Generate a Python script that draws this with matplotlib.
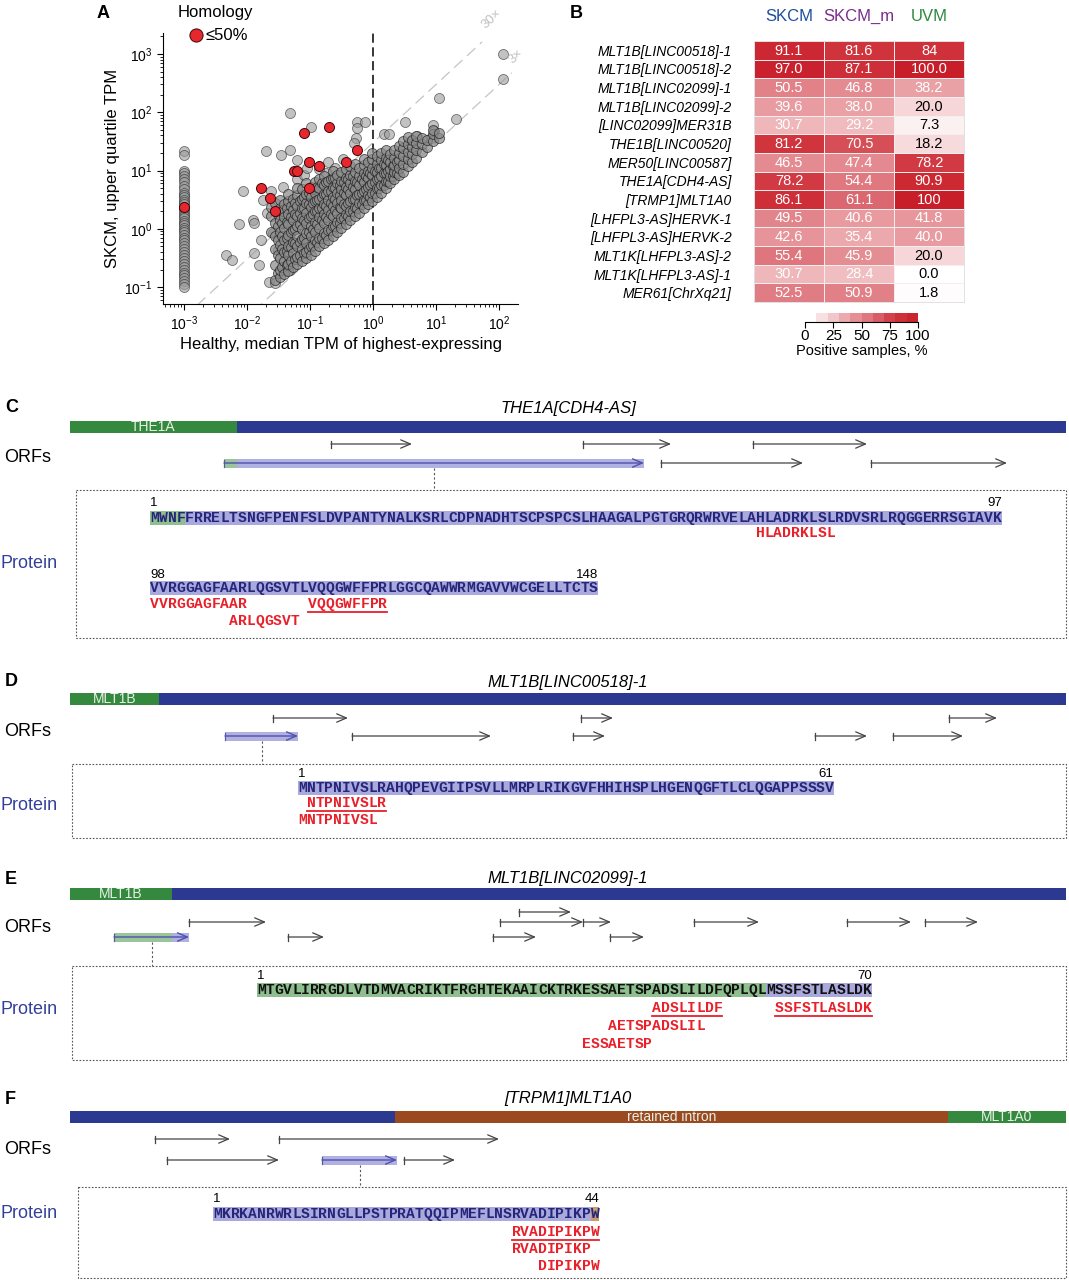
import numpy as np
import matplotlib
matplotlib.use("Agg")
import matplotlib.pyplot as plt
from matplotlib import font_manager
from matplotlib.colors import LinearSegmentedColormap
from matplotlib.patches import Rectangle
from matplotlib.ticker import LogLocator, NullFormatter

plt.rcParams['font.family'] = ['Liberation Sans', 'DejaVu Sans']
plt.rcParams['mathtext.fontset'] = 'custom'
plt.rcParams['mathtext.rm'] = 'Liberation Sans'
plt.rcParams['mathtext.it'] = 'Liberation Sans:italic'

_names = {f.name for f in font_manager.fontManager.ttflist}
NARROW = 'Liberation Sans Narrow' if 'Liberation Sans Narrow' in _names else 'Liberation Sans'
MONO = 'Liberation Mono'

W, H = 1069, 1280

# ---------------- panel A data (log10 values)
# healthy TPM = 1e-3 column (not expressed in healthy tissue)
col_logy = [1.34, 1.27, 1.0, 0.95, 0.9, 0.86, 0.8, 0.74, 0.68, 0.62, 0.58, 0.54,
            0.5, 0.46, 0.42, 0.38, 0.34, 0.3, 0.26, 0.22, 0.18, 0.14, 0.1, 0.06,
            0.02, -0.02, -0.06, -0.1, -0.15, -0.2, -0.25, -0.3, -0.35, -0.4, -0.45,
            -0.5, -0.55, -0.6, -0.65, -0.7, -0.75, -0.8, -0.85, -0.9, -0.95, -1.0]

# main cloud, one entry per x-column: (log10 healthy, [log10 SKCM ...])
cloud_cols = [
    (-1.62, [-0.05, 0.22, 0.38]),
    (-1.55, [-0.88, -0.62, -0.35, -0.12, 0.1, 0.3, 0.45]),
    (-1.51, [-0.75, -0.45, -0.2, 0.05, 0.25]),
    (-1.48, [-0.82, -0.7, -0.5, -0.28, -0.05, 0.15, 0.35, 0.5]),
    (-1.44, [-0.65, -0.35, -0.12, 0.1, 0.3]),
    (-1.41, [-0.78, -0.55, -0.4, -0.2, 0.02, 0.2, 0.42]),
    (-1.37, [-0.62, -0.38, -0.15, 0.12, 0.35]),
    (-1.34, [-0.72, -0.6, -0.45, -0.3, -0.1, 0.08, 0.25, 0.48, 0.6]),
    (-1.30, [-0.55, -0.32, -0.05, 0.2, 0.4]),
    (-1.27, [-0.65, -0.42, -0.22, -0.02, 0.15, 0.32, 0.52]),
    (-1.23, [-0.52, -0.25, 0.0, 0.25, 0.45]),
    (-1.20, [-0.6, -0.48, -0.3, -0.12, 0.05, 0.22, 0.4, 0.58, 0.7]),
    (-1.16, [-0.45, -0.22, 0.08, 0.28, 0.48]),
    (-1.13, [-0.55, -0.35, -0.18, 0.0, 0.18, 0.35, 0.52, 0.68]),
    (-1.09, [-0.42, -0.15, 0.15, 0.35, 0.55]),
    (-1.06, [-0.5, -0.4, -0.25, -0.08, 0.1, 0.28, 0.45, 0.6, 0.78]),
    (-1.02, [-0.35, -0.05, 0.18, 0.42, 0.62]),
    (-0.99, [-0.45, -0.3, -0.12, 0.05, 0.22, 0.38, 0.55, 0.72]),
    (-0.95, [-0.28, 0.0, 0.25, 0.45, 0.68]),
    (-0.92, [-0.38, -0.2, -0.05, 0.12, 0.3, 0.48, 0.62, 0.8]),
    (-0.88, [-0.22, 0.08, 0.3, 0.5, 0.72]),
    (-0.85, [-0.3, -0.15, 0.02, 0.2, 0.35, 0.52, 0.7, 0.85]),
    (-0.81, [-0.15, 0.15, 0.35, 0.55, 0.78]),
    (-0.78, [-0.25, -0.08, 0.1, 0.25, 0.42, 0.6, 0.75, 0.9]),
    (-0.74, [-0.1, 0.2, 0.4, 0.6, 0.8]),
    (-0.71, [-0.2, -0.02, 0.15, 0.32, 0.5, 0.65, 0.82]),
    (-0.67, [-0.02, 0.25, 0.45, 0.65, 0.85]),
    (-0.64, [-0.12, 0.05, 0.22, 0.4, 0.55, 0.72, 0.88, 1.0]),
    (-0.60, [0.05, 0.32, 0.52, 0.7, 0.88]),
    (-0.57, [-0.05, 0.12, 0.28, 0.45, 0.62, 0.78, 0.92]),
    (-0.53, [0.1, 0.38, 0.58, 0.75]),
    (-0.50, [0.02, 0.18, 0.35, 0.5, 0.68, 0.82, 0.98]),
    (-0.46, [0.18, 0.42, 0.62, 0.8]),
    (-0.43, [0.08, 0.25, 0.4, 0.58, 0.72, 0.88, 1.02]),
    (-0.39, [0.22, 0.45, 0.68, 0.85]),
    (-0.36, [0.15, 0.3, 0.48, 0.62, 0.78, 0.92, 1.08]),
    (-0.32, [0.3, 0.52, 0.72, 0.9]),
    (-0.29, [0.22, 0.38, 0.52, 0.68, 0.82, 0.98, 1.12]),
    (-0.25, [0.35, 0.58, 0.8]),
    (-0.22, [0.28, 0.45, 0.6, 0.75, 0.9, 1.05]),
    (-0.18, [0.42, 0.62, 0.85]),
    (-0.15, [0.35, 0.5, 0.65, 0.8, 0.95, 1.1, 1.2]),
    (-0.11, [0.5, 0.68, 0.9]),
    (-0.08, [0.42, 0.58, 0.72, 0.88, 1.0, 1.15]),
    (-0.04, [0.55, 0.75, 0.95]),
    (-0.01, [0.48, 0.62, 0.78, 0.92, 1.05, 1.2, 1.3]),
    (0.03, [0.62, 0.8, 1.0]),
    (0.06, [0.55, 0.7, 0.85, 0.98, 1.12, 1.25]),
    (0.10, [0.7, 0.88, 1.05]),
    (0.13, [0.62, 0.75, 0.9, 1.05, 1.18, 1.3]),
    (0.17, [0.75, 0.95, 1.12]),
    (0.20, [0.7, 0.82, 0.95, 1.1, 1.22, 1.35]),
    (0.24, [0.82, 1.0, 1.18]),
    (0.27, [0.78, 0.9, 1.02, 1.15, 1.28]),
    (0.31, [0.9, 1.08]),
    (0.34, [0.85, 0.98, 1.1, 1.22, 1.35]),
    (0.38, [0.95, 1.15]),
    (0.41, [0.92, 1.05, 1.18, 1.3, 1.42]),
    (0.48, [0.98, 1.12, 1.25, 1.38, 1.5]),
    (0.55, [1.08, 1.2, 1.32, 1.45, 1.58]),
    (0.62, [1.15, 1.28, 1.4, 1.52]),
    (0.69, [1.22, 1.35, 1.48, 1.6]),
    (0.78, [1.32, 1.45, 1.55]),
    (0.86, [1.4, 1.52]),
    (0.95, [1.5, 1.62, 1.7]),
    (1.04, [1.55, 1.65]),
]

# scattered outliers (log10 healthy, log10 SKCM)
out_logx = [2.06, 2.06, 1.05, 1.31, -1.31, -0.99, -0.26, -0.12, -0.25, -0.27, -0.30,
            0.51, 0.17, 0.26, -1.70, -1.46, -1.31, -1.21, -0.72, -0.75, -0.60, -2.06,
            -2.13, -1.91, -1.88, -2.33, -2.24, -1.88, -1.81, -1.65, -1.55, -1.77, -1.74,
            -1.58, -1.50, -1.39, -1.31, -1.62, -1.68, -1.20, -1.10, -1.42, -0.48, 0.95,
            0.70, 0.62, -1.05, -0.85, 0.96, 0.92]
out_logy = [3.0, 2.57, 2.24, 1.89, 1.99, 1.75, 1.84, 1.84, 1.73, 1.55, 1.47,
            1.84, 1.62, 1.62, 1.34, 1.27, 1.36, 1.18, 1.14, 0.95, 1.05, 0.65,
            0.09, 0.15, 0.1, -0.45, -0.53, -0.42, -0.62, -0.92, -0.93, -0.19, 0.5,
            -0.07, -0.36, -0.73, -0.70, 0.65, 0.28, 0.85, 0.92, 0.72, 1.2, 1.78,
            1.6, 1.5, 1.05, 1.02, 1.67, 1.55]

# homology <= 50 %
red_logx = [-3.0, -1.78, -1.63, -1.56, -1.25, -1.21, -1.09, -1.02, -1.01, -0.85, -0.70, -0.42, -0.25]
red_logy = [0.37, 0.70, 0.53, 0.31, 1.0, 1.0, 1.64, 1.15, 0.70, 1.07, 1.75, 1.14, 1.36]

# ---------------- panel B data
hm_rows = ['MLT1B[LINC00518]-1', 'MLT1B[LINC00518]-2', 'MLT1B[LINC02099]-1',
           'MLT1B[LINC02099]-2', '[LINC02099]MER31B', 'THE1B[LINC00520]',
           'MER50[LINC00587]', 'THE1A[CDH4-AS]', '[TRMP1]MLT1A0',
           '[LHFPL3-AS]HERVK-1', '[LHFPL3-AS]HERVK-2', 'MLT1K[LHFPL3-AS]-2',
           'MLT1K[LHFPL3-AS]-1', 'MER61[ChrXq21]']
hm_cols = ['SKCM', 'SKCM_m', 'UVM']
hm_col_colors = ['#1f4e9c', '#7b2d8b', '#2e8b3e']
skcm = [91.1, 97.0, 50.5, 39.6, 30.7, 81.2, 46.5, 78.2, 86.1, 49.5, 42.6, 55.4, 30.7, 52.5]
skcm_m = [81.6, 87.1, 46.8, 38.0, 29.2, 70.5, 47.4, 54.4, 61.1, 40.6, 35.4, 45.9, 28.4, 50.9]
uvm = [84, 100.0, 38.2, 20.0, 7.3, 18.2, 78.2, 90.9, 100, 41.8, 40.0, 20.0, 0.0, 1.8]
uvm_labels = ['84', '100.0', '38.2', '20.0', '7.3', '18.2', '78.2', '90.9', '100',
              '41.8', '40.0', '20.0', '0.0', '1.8']
cbar_ticks = [0, 25, 50, 75, 100]
cbar_levels = [10, 20, 30, 40, 50, 60, 70, 80, 90, 100]

# ---------------- panels C-F data (positions along transcript, 0..996)
BLUE = '#2b3990'
GREEN = '#35893f'
BROWN = '#9b4a1f'
SH_BLUE = '#a9a9de'
SH_GREEN = '#8fbf8f'
SH_BROWN = '#c89a6e'

c_title = 'THE1A[CDH4-AS]'
c_segments = [(0, 167, 'THE1A', GREEN), (167, 996, '', BLUE)]
c_orfs = [(261, 342, 0), (513, 601, 0), (683, 797, 0), (591, 733, 1), (801, 937, 1)]
c_main = [(154, 167, SH_GREEN), (167, 574, SH_BLUE)]
c_main_row = 1
c_seqs = [(1, 'MWNFFRRELTSNGFPENFSLDVPANTYNALKSRLCDPNADHTSCPSPCSLHAAGALPGTGRQRWRVELAHLADRKLSLRDVSRLRQGGERRSGIAVK'),
          (98, 'VVRGGAGFAARLQGSVTLVQQGWFFPRLGGCQAWWRMGAVVWCGELLTCTS')]
c_shades = [(0, 0, 3, SH_GREEN), (0, 4, 96, SH_BLUE), (1, 0, 50, SH_BLUE)]
c_peps = [(0, 0, 'HLADRKLSL', False), (1, 0, 'VVRGGAGFAAR', False),
          (1, 0, 'VQQGWFFPR', True), (1, 1, 'ARLQGSVT', False)]

d_title = 'MLT1B[LINC00518]-1'
d_segments = [(0, 89, 'MLT1B', GREEN), (89, 996, '', BLUE)]
d_orfs = [(203, 278, 0), (511, 543, 0), (879, 927, 0),
          (282, 421, 1), (503, 535, 1), (745, 797, 1), (823, 893, 1)]
d_main = [(155, 228, SH_BLUE)]
d_main_row = 1
d_seqs = [(1, 'MNTPNIVSLRAHQPEVGIIPSVLLMRPLRIKGVFHHIHSPLHGENQGFTLCLQGAPPSSSV')]
d_shades = [(0, 0, 60, SH_BLUE)]
d_peps = [(0, 0, 'NTPNIVSLR', True), (0, 1, 'MNTPNIVSL', False)]

e_title = 'MLT1B[LINC02099]-1'
e_segments = [(0, 102, 'MLT1B', GREEN), (102, 996, '', BLUE)]
e_orfs = [(449, 501, 0), (119, 196, 1), (430, 513, 1), (513, 541, 1), (624, 689, 1),
          (777, 841, 1), (855, 908, 1), (218, 254, 2), (423, 466, 2), (540, 574, 2)]
e_main = [(44, 102, SH_GREEN), (102, 119, SH_BLUE)]
e_main_row = 2
e_seqs = [(1, 'MTGVLIRRGDLVTDMVACRIKTFRGHTEKAAICKTRKESSAETSPADSLILDFQPLQLMSSFSTLASLDK')]
e_shades = [(0, 0, 57, SH_GREEN), (0, 58, 69, SH_BLUE)]
e_peps = [(0, 0, 'ADSLILDF', True), (0, 0, 'SSFSTLASLDK', True),
          (0, 1, 'AETSPADSLIL', False), (0, 2, 'ESSAETSP', False)]

f_title = '[TRPM1]MLT1A0'
f_segments = [(0, 325, '', BLUE), (325, 878, 'retained intron', BROWN), (878, 996, 'MLT1A0', GREEN)]
f_orfs = [(85, 160, 0), (209, 429, 0), (97, 209, 1), (334, 385, 1)]
f_main = [(252, 327, SH_BLUE)]
f_main_row = 1
f_seqs = [(1, 'MKRKANRWRLSIRNGLLPSTPRATQQIPMEFLNSRVADIPIKPW')]
f_shades = [(0, 0, 42, SH_BLUE), (0, 43, 43, SH_BROWN)]
f_peps = [(0, 0, 'RVADIPIKPW', True), (0, 1, 'RVADIPIKP', False), (0, 2, 'DIPIKPW', False)]

# ================= figure
fig = plt.figure(figsize=(W / 100, H / 100), dpi=100)
ax0 = fig.add_axes([0, 0, 1, 1])
ax0.set_xlim(0, W)
ax0.set_ylim(H, 0)
ax0.axis('off')
ax0.set_zorder(10)

# ---------------- panel A
axA = fig.add_axes([163 / W, 1 - 304 / H, 355 / W, 271 / H])
axA.set_xscale('log')
axA.set_yscale('log')
axA.set_xlim(10 ** -3.33, 10 ** 2.3)
axA.set_ylim(10 ** -1.29, 10 ** 3.36)

xs = np.logspace(-3.4, 1.73, 50)
axA.plot(xs, 30 * xs, color='#c4c4c4', lw=0.9, ls=(0, (9, 5)), zorder=1)
xs3 = np.logspace(-2.5, 2.2, 50)
axA.plot(xs3, 3 * xs3, color='#c4c4c4', lw=0.9, ls=(0, (9, 5)), zorder=1)
axA.text(10 ** 1.82, 30 * 10 ** 1.82 * 1.25, '30\u00d7', color='#c0c0c0', fontsize=9.5,
         rotation=43, ha='left', va='bottom', rotation_mode='anchor', clip_on=False)
axA.text(10 ** 2.25, 3 * 10 ** 2.25 * 1.15, '3\u00d7', color='#c0c0c0', fontsize=9.5,
         rotation=43, ha='left', va='bottom', rotation_mode='anchor', clip_on=False)
axA.axvline(1, color='black', lw=1.1, ls=(0, (6, 3)), zorder=1)

# column + outliers (lighter), dense cloud (darker through overlap)
lx = [-3.0] * len(col_logy) + out_logx
ly = list(col_logy) + out_logy
cx_all, cy_all = [], []
for cx, cys in cloud_cols:
    cx_all += [cx] * len(cys)
    cy_all += cys
axA.scatter(10 ** np.array(lx), 10 ** np.array(ly), s=52, facecolor='#9a9a9a',
            edgecolor='#222222', linewidth=0.6, alpha=0.6, zorder=2)
axA.scatter(10 ** np.array(cx_all), 10 ** np.array(cy_all), s=52, facecolor='#8a8a8a',
            edgecolor='#1a1a1a', linewidth=0.6, alpha=0.72, zorder=2)
axA.scatter(10 ** np.array(red_logx), 10 ** np.array(red_logy), s=52, facecolor='#e8262d',
            edgecolor='#3a0a0a', linewidth=0.7, zorder=3)

for sp in ['top', 'right']:
    axA.spines[sp].set_visible(False)
axA.xaxis.set_major_locator(LogLocator(base=10, numticks=12))
axA.yaxis.set_major_locator(LogLocator(base=10, numticks=12))
axA.xaxis.set_minor_locator(LogLocator(base=10, subs=np.arange(2, 10), numticks=12))
axA.yaxis.set_minor_locator(LogLocator(base=10, subs=np.arange(2, 10), numticks=12))
axA.xaxis.set_minor_formatter(NullFormatter())
axA.yaxis.set_minor_formatter(NullFormatter())
axA.tick_params(which='major', length=4, labelsize=10)
axA.tick_params(which='minor', length=2)
axA.set_xlabel('Healthy, median TPM of highest-expressing', fontsize=12, labelpad=3)
axA.set_ylabel('SKCM, upper quartile TPM', fontsize=12, labelpad=3)

ax0.text(97, 13, 'A', fontsize=13, fontweight='bold', va='center')
ax0.text(178, 12, 'Homology', fontsize=12, va='center')
ax0.scatter([196], [35], s=90, facecolor='#e8262d', edgecolor='#3a0a0a', linewidth=0.7)
ax0.text(205, 35, '\u226450%', fontsize=12, va='center')

# ---------------- panel B
axB = fig.add_axes([754 / W, 1 - 302 / H, 210 / W, 261 / H])
cmap = LinearSegmentedColormap.from_list(
    'wr', [(0, '#ffffff'), (0.2, '#f6d6d8'), (0.4, '#e89ba0'), (0.6, '#dc6b73'),
           (0.8, '#d0363f'), (1, '#c81e2a')])
vals = np.array([skcm, skcm_m, uvm], dtype=float).T
axB.pcolormesh(vals, cmap=cmap, vmin=0, vmax=100, edgecolors='#f4eeee', linewidth=0.7)
axB.set_xlim(0, 3)
axB.set_ylim(len(hm_rows), 0)
for i in range(len(hm_rows)):
    labels = [f'{skcm[i]:.1f}', f'{skcm_m[i]:.1f}', uvm_labels[i]]
    for j in range(3):
        v = vals[i, j]
        axB.text(j + 0.5, i + 0.52, labels[j], ha='center', va='center', fontsize=10.5,
                 color='white' if v >= 25 else 'black')
axB.set_yticks(np.arange(len(hm_rows)) + 0.5)
axB.set_yticklabels(hm_rows, fontstyle='italic', fontsize=10)
axB.tick_params(axis='y', length=0, pad=16)
axB.set_xticks([])
for sp in axB.spines.values():
    sp.set_color('#dddddd')
    sp.set_linewidth(0.6)
for j, (name, c) in enumerate(zip(hm_cols, hm_col_colors)):
    axB.text(j + 0.5, -1.3, name, ha='center', va='center', fontsize=12, color=c, clip_on=False)
ax0.text(570, 13, 'B', fontsize=13, fontweight='bold', va='center')

cax = fig.add_axes([805 / W, 1 - 322 / H, 113 / W, 9 / H])
cax.set_xlim(0, 100)
cax.set_ylim(0, 1)
for lo, hi in zip(cbar_levels[:-1], cbar_levels[1:]):
    cax.add_patch(Rectangle((lo, 0), hi - lo, 1, color=cmap((lo + hi) / 200), lw=0))
for sp in ['top', 'right', 'left']:
    cax.spines[sp].set_visible(False)
cax.set_yticks([])
cax.set_xticks(cbar_ticks)
cax.tick_params(axis='x', length=4, labelsize=11, pad=1)
cax.set_xlabel('Positive samples, %', fontsize=10.5, labelpad=1)

# ---------------- panels C-F
TX0 = 70
CW = 8.78


def draw_panel(letter, title, segments, orfs, main, main_row, seqs, shades, peps, lay):
    ax0.text(5, lay['top'], letter, fontsize=13, fontweight='bold', va='center')
    ax0.text(568, lay['top'], title, fontsize=12, fontstyle='italic', ha='center',
             va='center', family=NARROW)
    by = lay['bar']
    for s, e, lab, col in segments:
        ax0.add_patch(Rectangle((TX0 + s, by - 6), e - s, 12, color=col, lw=0))
        if lab:
            ax0.text(TX0 + (s + e) / 2, by, lab, color='#e6f0e6', fontsize=10,
                     ha='center', va='center', family=NARROW)
    ax0.text(4, lay['orfs'], 'ORFs', fontsize=13, va='center', family=NARROW)
    ax0.text(1, lay['prot'], 'Protein', fontsize=13, va='center', color='#34409a',
             family=NARROW)
    # ordinary ORFs
    for s, e, r in orfs:
        y = lay['rows'][r]
        ax0.plot([TX0 + s, TX0 + s], [y - 3.5, y + 3.5], color='#444444', lw=0.9)
        ax0.annotate('', xy=(TX0 + e, y), xytext=(TX0 + s, y),
                     arrowprops=dict(arrowstyle='->,head_length=0.7,head_width=0.3',
                                     color='#444444', lw=0.9, shrinkA=0, shrinkB=0,
                                     mutation_scale=10))
    # translated ORF
    y = lay['rows'][main_row]
    for s, e, col in main:
        ax0.add_patch(Rectangle((TX0 + s, y - 4.5), e - s, 9, color=col, lw=0, alpha=0.9))
    ms, me = main[0][0], main[-1][1]
    ax0.plot([TX0 + ms, TX0 + ms], [y - 3.5, y + 3.5], color='#5a5aa0', lw=0.9)
    ax0.annotate('', xy=(TX0 + me, y), xytext=(TX0 + ms, y),
                 arrowprops=dict(arrowstyle='->,head_length=0.7,head_width=0.3',
                                 color='#5050b0', lw=1.0, shrinkA=0, shrinkB=0,
                                 mutation_scale=10))
    mid = TX0 + (ms + me) / 2
    bt, bb = lay['box']
    ax0.plot([mid, mid], [y + 5, bt], color='#555555', lw=0.8, ls=(0, (2, 2)))
    ax0.add_patch(Rectangle((lay['bx'], bt), 1066 - lay['bx'], bb - bt, fill=False,
                            ec='#555555', lw=0.8, ls=(0, (1.5, 1.5))))
    # protein sequence lines
    sx = lay['sx']
    for k, (n0, seq) in enumerate(seqs):
        ny, sy = lay['lines'][k]
        ax0.text(sx, ny, str(n0), fontsize=9.5, ha='left', va='center')
        ax0.text(sx + len(seq) * CW, ny, str(n0 + len(seq) - 1), fontsize=9.5,
                 ha='right', va='center')
        for (ln, i0, i1, col) in shades:
            if ln == k:
                ax0.add_patch(Rectangle((sx + i0 * CW, sy - 7), (i1 - i0 + 1) * CW, 14,
                                        color=col, lw=0))
        for i, ch in enumerate(seq):
            ax0.text(sx + (i + 0.5) * CW, sy, ch, family=MONO, fontweight='bold',
                     fontsize=10.5, ha='center', va='center', color=lay['scol'])
    # peptides
    for ln, row, pep, und in peps:
        seq = seqs[ln][1]
        i0 = seq.find(pep)
        py = lay['peps'][ln][row]
        for i, ch in enumerate(pep):
            ax0.text(sx + (i0 + i + 0.5) * CW, py, ch, family=MONO, fontweight='bold',
                     fontsize=10.5, ha='center', va='center', color='#e8202a')
        if und:
            ax0.plot([sx + i0 * CW, sx + (i0 + len(pep)) * CW], [py + 7.5, py + 7.5],
                     color='#e8202a', lw=1.3)


lay_c = dict(top=408, bar=427, rows=[444, 463], orfs=458, prot=563, box=(490, 638), bx=76,
             sx=150, lines=[(503, 518), (575, 588)], peps=[[533], [604, 621]], scol='#25257a')
lay_d = dict(top=682, bar=699, rows=[718, 736], orfs=731, prot=806, box=(764, 838), bx=72,
             sx=298, lines=[(774, 788)], peps=[[803, 820]], scol='#25257a')
lay_e = dict(top=879, bar=894, rows=[912, 922, 937], orfs=927, prot=1010, box=(966, 1060),
             bx=72, sx=257, lines=[(976, 990)], peps=[[1008, 1026, 1044]], scol='#111111')
lay_f = dict(top=1099, bar=1117, rows=[1139, 1160], orfs=1150, prot=1214, box=(1187, 1278),
             bx=78, sx=213, lines=[(1199, 1214)], peps=[[1232, 1249, 1266]], scol='#25257a')

draw_panel('C', c_title, c_segments, c_orfs, c_main, c_main_row, c_seqs, c_shades, c_peps, lay_c)
draw_panel('D', d_title, d_segments, d_orfs, d_main, d_main_row, d_seqs, d_shades, d_peps, lay_d)
draw_panel('E', e_title, e_segments, e_orfs, e_main, e_main_row, e_seqs, e_shades, e_peps, lay_e)
draw_panel('F', f_title, f_segments, f_orfs, f_main, f_main_row, f_seqs, f_shades, f_peps, lay_f)

fig.savefig('out.png', dpi=100)
